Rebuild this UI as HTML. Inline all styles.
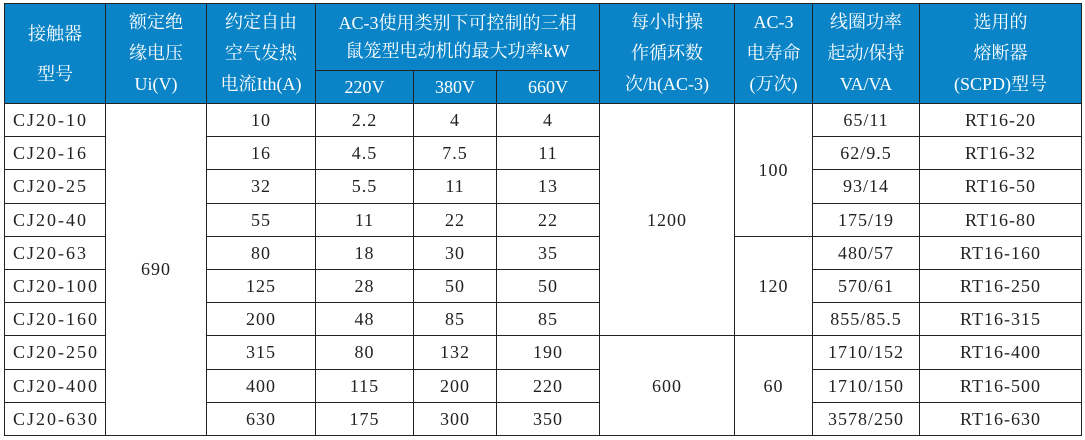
<!DOCTYPE html><html><head><meta charset="utf-8"><style>
body{margin:0;background:#fff;width:1085px;height:440px;overflow:hidden}
table{position:absolute;left:4px;top:3px;border-collapse:collapse;table-layout:fixed;font-family:"Liberation Serif","Noto Serif CJK SC",serif;font-size:18px;color:#222}
td{border:1.5px solid #222;text-align:center;padding:0;white-space:nowrap;line-height:22px;overflow:hidden}
thead td{background:#0a84c6;color:#fff;font-size:18px;line-height:30px}
tbody td{height:32.2px;letter-spacing:1px}
td.l{text-align:left;padding-left:8px;letter-spacing:2px}
</style></head><body>
<table>
<colgroup><col style="width:101px"><col style="width:101px"><col style="width:109px"><col style="width:98px"><col style="width:83px"><col style="width:103px"><col style="width:135px"><col style="width:78px"><col style="width:107px"><col style="width:162px"></colgroup>
<thead>
<tr style="height:67px"><td rowspan="2" style="line-height:40px">接触器<br>型号</td><td rowspan="2" style="line-height:31px">额定绝<br>缘电压<br>Ui(V)</td><td rowspan="2" style="line-height:31px">约定自由<br>空气发热<br>电流Ith(A)</td><td colspan="3" style="line-height:28px">AC-3使用类别下可控制的三相<br>鼠笼型电动机的最大功率kW</td><td rowspan="2" style="line-height:31px">每小时操<br>作循环数<br>次/h(AC-3)</td><td rowspan="2" style="line-height:31px">AC-3<br>电寿命<br>(万次)</td><td rowspan="2" style="line-height:31px">线圈功率<br>起动/保持<br>VA/VA</td><td rowspan="2" style="line-height:31px">选用的<br>熔断器<br>(SCPD)型号</td></tr>
<tr style="height:33px"><td>220V</td><td>380V</td><td>660V</td></tr>
</thead>
<tbody>
<tr><td class="l">CJ20-10</td><td rowspan="10">690</td><td>10</td><td>2.2</td><td>4</td><td>4</td><td rowspan="7">1200</td><td rowspan="4">100</td><td>65/11</td><td>RT16-20</td></tr>
<tr><td class="l">CJ20-16</td><td>16</td><td>4.5</td><td>7.5</td><td>11</td><td>62/9.5</td><td>RT16-32</td></tr>
<tr><td class="l">CJ20-25</td><td>32</td><td>5.5</td><td>11</td><td>13</td><td>93/14</td><td>RT16-50</td></tr>
<tr><td class="l">CJ20-40</td><td>55</td><td>11</td><td>22</td><td>22</td><td>175/19</td><td>RT16-80</td></tr>
<tr><td class="l">CJ20-63</td><td>80</td><td>18</td><td>30</td><td>35</td><td rowspan="3">120</td><td>480/57</td><td>RT16-160</td></tr>
<tr><td class="l">CJ20-100</td><td>125</td><td>28</td><td>50</td><td>50</td><td>570/61</td><td>RT16-250</td></tr>
<tr><td class="l">CJ20-160</td><td>200</td><td>48</td><td>85</td><td>85</td><td>855/85.5</td><td>RT16-315</td></tr>
<tr><td class="l">CJ20-250</td><td>315</td><td>80</td><td>132</td><td>190</td><td rowspan="3">600</td><td rowspan="3">60</td><td>1710/152</td><td>RT16-400</td></tr>
<tr><td class="l">CJ20-400</td><td>400</td><td>115</td><td>200</td><td>220</td><td>1710/150</td><td>RT16-500</td></tr>
<tr><td class="l">CJ20-630</td><td>630</td><td>175</td><td>300</td><td>350</td><td>3578/250</td><td>RT16-630</td></tr>
</tbody></table>
</body></html>
